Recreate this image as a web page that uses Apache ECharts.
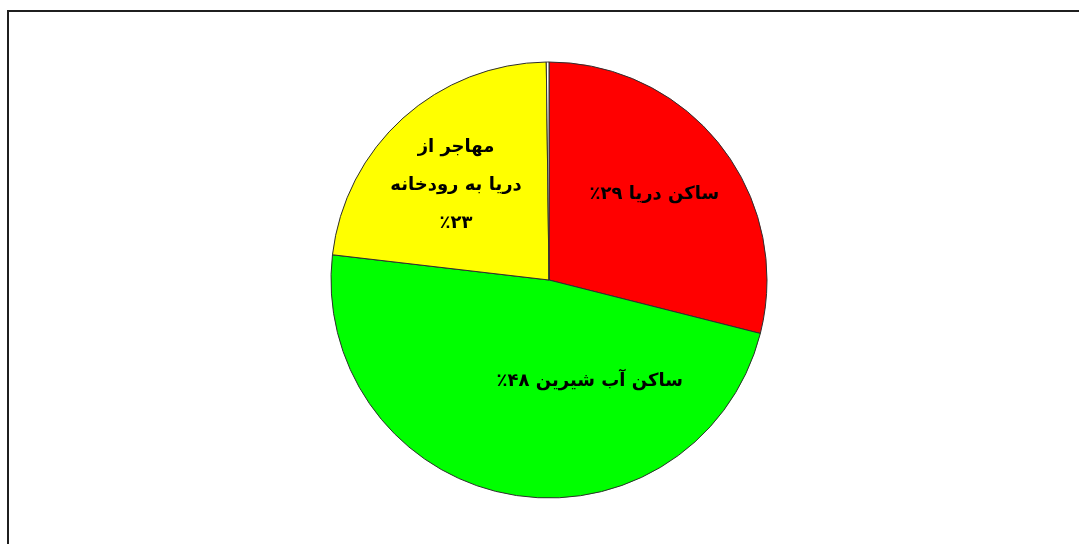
<!DOCTYPE html>
<html>
<head>
<meta charset="utf-8">
<script src="https://cdn.jsdelivr.net/npm/echarts@6/dist/echarts.min.js"></script>
<style>
  html, body { margin: 0; padding: 0; background: #fff; overflow: hidden; }
  #frame {
    position: absolute; left: 7px; top: 10px;
    width: 2000px; height: 2000px;
    border: 2px solid #1f1f1f; box-sizing: border-box;
  }
  #chart {
    position: absolute; left: 0; top: 0;
    width: 1079px; height: 544px;
    direction: rtl;
  }
</style>
</head>
<body>
<div id="frame"></div>
<div id="chart"></div>
<script>
// Slice names (labels are multi-line where needed) and shares in percent
const categories = ['ساکن دریا', 'ساکن آب شیرین', 'مهاجر از\nدریا به رودخانه', ''];
const values = [29, 48, 23, 0.2];
const percentLabels = ['۲۹٪', '۴۸٪', '٪۲۳', ''];

// Styling
const sliceColors = ['#ff0000', '#00ff00', '#ffff00', '#ffffff'];
const labelOffsets = [[17, -17], [61, -9], [-18, -11], [0, 0]];

const data = categories.map((name, i) => ({
  name: name,
  value: values[i],
  itemStyle: { color: sliceColors[i] },
  label: {
    show: name !== '',
    offset: labelOffsets[i],
    formatter: () => name.indexOf('\n') >= 0
      ? name + '\n' + percentLabels[i]
      : name + ' ' + percentLabels[i]
  }
}));

const chart = echarts.init(document.getElementById('chart'), null, { renderer: 'canvas' });
chart.setOption({
  animation: false,
  backgroundColor: 'transparent',
  series: [{
    type: 'pie',
    center: [549, 280],
    radius: 218,
    startAngle: 90,
    clockwise: true,
    avoidLabelOverlap: false,
    itemStyle: { borderColor: '#2e2e2e', borderWidth: 1 },
    label: {
      position: 'inside',
      color: '#000',
      fontFamily: 'DejaVu Sans',
      fontWeight: 'bold',
      fontSize: 18,
      lineHeight: 38,
      align: 'center'
    },
    labelLine: { show: false },
    emphasis: { disabled: true },
    data: data
  }]
});
</script>
</body>
</html>
